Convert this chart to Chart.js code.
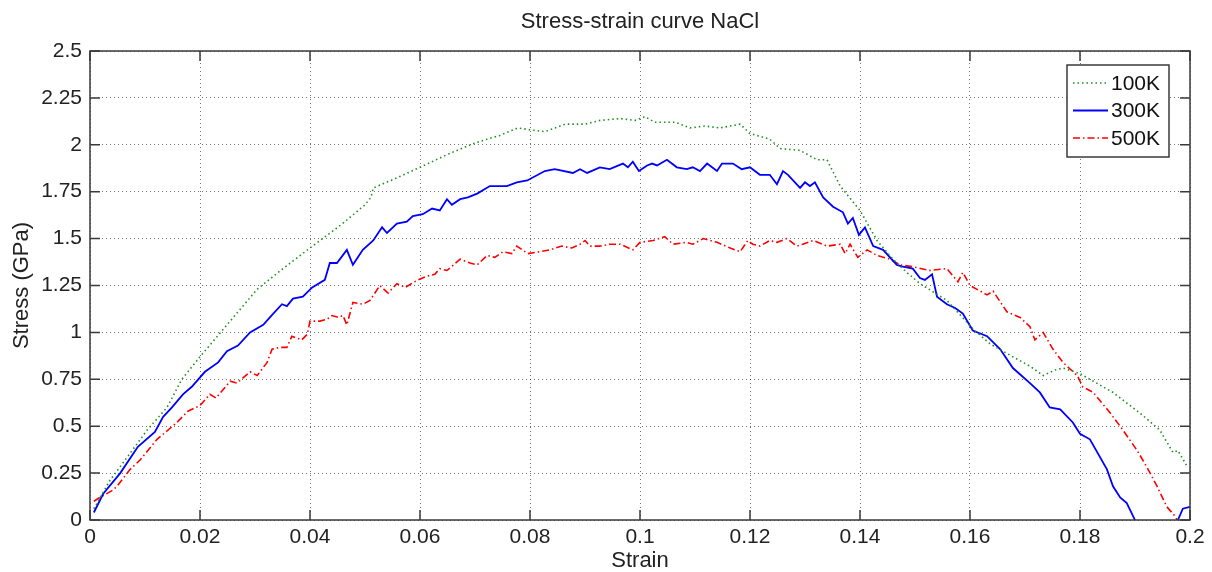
<!DOCTYPE html>
<html>
<head>
<meta charset="utf-8">
<title>Stress-strain curve NaCl</title>
<script src="https://cdn.jsdelivr.net/npm/chart.js@4.4.1/dist/chart.umd.min.js"></script>
<style>
  html, body { margin: 0; padding: 0; background: #fff; }
  #wrap { width: 1212px; height: 572px; }
</style>
</head>
<body>
<div id="wrap"><canvas id="stressChart" width="1212" height="572"></canvas></div>
<script>
// temperature runs
const temps = ['100K', '300K', '500K'];

// 100K run
const strain100 = [0.0007, 0.0036, 0.0069, 0.0104, 0.0140, 0.0167, 0.0200, 0.0249, 0.0304, 0.0351,
  0.0400, 0.0455, 0.0500, 0.0511, 0.0515, 0.0555, 0.0600, 0.0651, 0.0700, 0.0745,
  0.0778, 0.0800, 0.0827, 0.0864, 0.0900, 0.0927, 0.0964, 0.0991, 0.1009, 0.1027,
  0.1064, 0.1091, 0.1118, 0.1145, 0.1164, 0.1182, 0.1200, 0.1236, 0.1255, 0.1291,
  0.1322, 0.1340, 0.1364, 0.1400, 0.1431, 0.1460, 0.1485, 0.1509, 0.1558, 0.1605,
  0.1636, 0.1678, 0.1709, 0.1733, 0.1755, 0.1769, 0.1800, 0.1860, 0.1909, 0.1945,
  0.1969, 0.1978, 0.1996];
const stress100 = [0.06, 0.21, 0.34, 0.48, 0.60, 0.75, 0.87, 1.04, 1.23, 1.34,
  1.45, 1.57, 1.68, 1.72, 1.77, 1.82, 1.88, 1.95, 2.01, 2.05,
  2.09, 2.08, 2.07, 2.11, 2.11, 2.13, 2.14, 2.13, 2.15, 2.12,
  2.12, 2.09, 2.10, 2.09, 2.10, 2.11, 2.06, 2.03, 1.98, 1.97,
  1.92, 1.92, 1.78, 1.65, 1.49, 1.39, 1.32, 1.26, 1.17, 1.02,
  0.94, 0.87, 0.82, 0.77, 0.80, 0.81, 0.78, 0.68, 0.57, 0.48,
  0.36, 0.37, 0.28];

// 300K run
const strain300 = [0.0007, 0.0024, 0.0055, 0.0087, 0.0118, 0.0133, 0.0149, 0.0169, 0.0185, 0.0209,
  0.0233, 0.0249, 0.0269, 0.0291, 0.0315, 0.0327, 0.0349, 0.0358, 0.0369, 0.0387,
  0.0404, 0.0427, 0.0436, 0.0449, 0.0467, 0.0478, 0.0496, 0.0515, 0.0531, 0.0540,
  0.0558, 0.0576, 0.0587, 0.0605, 0.0622, 0.0636, 0.0649, 0.0658, 0.0673, 0.0687,
  0.0704, 0.0727, 0.0758, 0.0776, 0.0795, 0.0827, 0.0845, 0.0878, 0.0891, 0.0904,
  0.0927, 0.0945, 0.0969, 0.0978, 0.0987, 0.0998, 0.1013, 0.1022, 0.1031, 0.1049,
  0.1067, 0.1085, 0.1096, 0.1109, 0.1122, 0.1140, 0.1149, 0.1169, 0.1185, 0.1200,
  0.1218, 0.1236, 0.1249, 0.1260, 0.1269, 0.1291, 0.1300, 0.1309, 0.1318, 0.1333,
  0.1351, 0.1369, 0.1378, 0.1387, 0.1398, 0.1409, 0.1424, 0.1442, 0.1467, 0.1478,
  0.1496, 0.1509, 0.1518, 0.1531, 0.1540, 0.1558, 0.1573, 0.1587, 0.1605, 0.1631,
  0.1655, 0.1678, 0.1709, 0.1727, 0.1745, 0.1764, 0.1787, 0.1800, 0.1818, 0.1849,
  0.1860, 0.1873, 0.1885, 0.1900, 0.1915, 0.1965, 0.1978, 0.1987, 0.2000];
const stress300 = [0.04, 0.14, 0.25, 0.39, 0.47, 0.55, 0.60, 0.67, 0.71, 0.79,
  0.84, 0.90, 0.93, 1.00, 1.04, 1.08, 1.15, 1.14, 1.18, 1.19,
  1.24, 1.28, 1.37, 1.37, 1.44, 1.36, 1.44, 1.49, 1.56, 1.53,
  1.58, 1.59, 1.62, 1.63, 1.66, 1.65, 1.71, 1.68, 1.71, 1.72,
  1.74, 1.78, 1.78, 1.80, 1.81, 1.86, 1.87, 1.85, 1.87, 1.85,
  1.88, 1.87, 1.90, 1.88, 1.91, 1.86, 1.89, 1.90, 1.89, 1.92,
  1.88, 1.87, 1.88, 1.86, 1.90, 1.86, 1.90, 1.90, 1.87, 1.88,
  1.84, 1.84, 1.79, 1.86, 1.84, 1.77, 1.80, 1.78, 1.80, 1.72,
  1.67, 1.64, 1.58, 1.61, 1.52, 1.56, 1.46, 1.44, 1.36, 1.35,
  1.34, 1.29, 1.28, 1.31, 1.19, 1.15, 1.13, 1.10, 1.01, 0.98,
  0.91, 0.81, 0.73, 0.68, 0.60, 0.59, 0.52, 0.46, 0.43, 0.27,
  0.18, 0.12, 0.09, 0.00, -0.15, -0.15, 0.00, 0.06, 0.07];

// 500K run
const strain500 = [0.0007, 0.0018, 0.0042, 0.0049, 0.0073, 0.0091, 0.0122, 0.0158, 0.0178, 0.0200,
  0.0218, 0.0229, 0.0255, 0.0267, 0.0291, 0.0304, 0.0322, 0.0331, 0.0345, 0.0358,
  0.0367, 0.0385, 0.0395, 0.0400, 0.0418, 0.0431, 0.0440, 0.0451, 0.0460, 0.0467,
  0.0478, 0.0496, 0.0509, 0.0527, 0.0542, 0.0558, 0.0573, 0.0596, 0.0613, 0.0627,
  0.0636, 0.0649, 0.0673, 0.0691, 0.0704, 0.0722, 0.0736, 0.0751, 0.0767, 0.0776,
  0.0796, 0.0818, 0.0836, 0.0858, 0.0876, 0.0891, 0.0900, 0.0909, 0.0927, 0.0945,
  0.0964, 0.0987, 0.1000, 0.1024, 0.1045, 0.1060, 0.1085, 0.1096, 0.1115, 0.1140,
  0.1164, 0.1182, 0.1196, 0.1205, 0.1218, 0.1236, 0.1249, 0.1267, 0.1285, 0.1296,
  0.1315, 0.1340, 0.1364, 0.1373, 0.1382, 0.1396, 0.1413, 0.1431, 0.1455, 0.1473,
  0.1496, 0.1527, 0.1558, 0.1578, 0.1587, 0.1600, 0.1631, 0.1642, 0.1667, 0.1691,
  0.1709, 0.1718, 0.1733, 0.1751, 0.1769, 0.1795, 0.1805, 0.1824, 0.1855, 0.1878,
  0.1904, 0.1922, 0.1940, 0.1958, 0.1973, 0.1982, 0.2000];
const stress500 = [0.10, 0.12, 0.16, 0.18, 0.27, 0.32, 0.43, 0.52, 0.58, 0.61,
  0.67, 0.65, 0.74, 0.73, 0.79, 0.77, 0.84, 0.91, 0.92, 0.92,
  0.98, 0.96, 0.99, 1.06, 1.06, 1.07, 1.09, 1.08, 1.09, 1.04,
  1.16, 1.15, 1.17, 1.25, 1.21, 1.26, 1.24, 1.28, 1.30, 1.31,
  1.34, 1.33, 1.39, 1.37, 1.36, 1.41, 1.40, 1.43, 1.42, 1.46,
  1.42, 1.43, 1.44, 1.46, 1.45, 1.47, 1.49, 1.46, 1.46, 1.47,
  1.47, 1.44, 1.48, 1.49, 1.51, 1.47, 1.48, 1.47, 1.50, 1.48,
  1.45, 1.43, 1.49, 1.47, 1.46, 1.49, 1.48, 1.50, 1.46, 1.47,
  1.49, 1.46, 1.47, 1.42, 1.47, 1.40, 1.44, 1.41, 1.39, 1.36,
  1.35, 1.33, 1.34, 1.27, 1.32, 1.25, 1.20, 1.22, 1.11, 1.08,
  1.03, 0.96, 1.00, 0.91, 0.84, 0.77, 0.71, 0.68, 0.57, 0.48,
  0.37, 0.28, 0.18, 0.07, 0.02, -0.03, -0.15];

// axis ticks
const xTicks = [0, 0.02, 0.04, 0.06, 0.08, 0.1, 0.12, 0.14, 0.16, 0.18, 0.2];
const xTickLabels = ['0', '0.02', '0.04', '0.06', '0.08', '0.1', '0.12', '0.14', '0.16', '0.18', '0.2'];
const yTicks = [0, 0.25, 0.5, 0.75, 1, 1.25, 1.5, 1.75, 2, 2.25, 2.5];
const yTickLabels = ['0', '0.25', '0.5', '0.75', '1', '1.25', '1.5', '1.75', '2', '2.25', '2.5'];

const FONT = "'Liberation Sans', Arial, Helvetica, sans-serif";
Chart.defaults.font.family = FONT;
Chart.defaults.color = '#222';

function toPoints(xs, ys) {
    return xs.map((x, i) => ({ x: x, y: ys[i] }));
}

// box round the axes, inward ticks on all four sides, legend in the top right corner
const framePlugin = {
    id: 'frame',
    afterDatasetsDraw(chart) {
        const { ctx, chartArea: a, scales: { x, y } } = chart;
        ctx.save();
        ctx.strokeStyle = '#3a3a3a';
        ctx.lineWidth = 1.5;
        ctx.setLineDash([]);
        ctx.strokeRect(a.left, a.top, a.right - a.left, a.bottom - a.top);

        ctx.beginPath();
        xTicks.forEach(v => {
            const px = x.getPixelForValue(v);
            ctx.moveTo(px, a.bottom); ctx.lineTo(px, a.bottom - 10);
            ctx.moveTo(px, a.top); ctx.lineTo(px, a.top + 10);
        });
        yTicks.forEach(v => {
            const py = y.getPixelForValue(v);
            ctx.moveTo(a.left, py); ctx.lineTo(a.left + 10, py);
            ctx.moveTo(a.right, py); ctx.lineTo(a.right - 10, py);
        });
        ctx.stroke();

        // legend
        const bw = 102, bh = 92;
        const bx = a.right - 21 - bw, by = a.top + 14;
        ctx.fillStyle = '#fff';
        ctx.fillRect(bx, by, bw, bh);
        ctx.strokeStyle = '#3a3a3a';
        ctx.lineWidth = 1.5;
        ctx.strokeRect(bx, by, bw, bh);
        ctx.font = '21px ' + FONT;
        ctx.textBaseline = 'middle';
        ctx.textAlign = 'left';
        chart.data.datasets.forEach((ds, i) => {
            const ly = by + 18 + i * 27.5;
            ctx.beginPath();
            ctx.strokeStyle = ds.borderColor;
            ctx.lineWidth = ds.borderWidth;
            ctx.setLineDash(ds.borderDash || []);
            ctx.moveTo(bx + 6, ly);
            ctx.lineTo(bx + 41, ly);
            ctx.stroke();
            ctx.setLineDash([]);
            ctx.fillStyle = '#111';
            ctx.fillText(ds.label, bx + 44, ly + 1);
        });
        ctx.restore();
    }
};

const ctx = document.getElementById('stressChart').getContext('2d');
const stressChart = new Chart(ctx, {
    type: 'line',
    data: {
        datasets: [
            { label: temps[0], data: toPoints(strain100, stress100), borderColor: '#1e8f1e', borderWidth: 1.6, borderDash: [1.5, 3], pointRadius: 0, tension: 0 },
            { label: temps[1], data: toPoints(strain300, stress300), borderColor: '#0000ff', borderWidth: 1.8, pointRadius: 0, tension: 0 },
            { label: temps[2], data: toPoints(strain500, stress500), borderColor: '#ff0000', borderWidth: 1.6, borderDash: [7, 3, 1.5, 3], pointRadius: 0, tension: 0 }
        ]
    },
    options: {
        responsive: false,
        animation: false,
        layout: { padding: { left: 0, right: 22, top: 0, bottom: 0 } },
        plugins: {
            legend: { display: false },
            tooltip: { enabled: false },
            title: {
                display: true,
                fullSize: false,
                text: 'Stress-strain curve NaCl',
                color: '#222',
                font: { size: 22, weight: 'normal' },
                padding: { top: 9, bottom: 15.6 }
            }
        },
        scales: {
            x: {
                type: 'linear',
                min: 0,
                max: 0.2,
                afterFit(s) { s.height = 52; },
                afterBuildTicks(s) { s.ticks = xTicks.map(v => ({ value: v })); },
                ticks: {
                    callback: (v, i) => xTickLabels[i],
                    font: { size: 21 },
                    color: '#222',
                    padding: 5,
                    maxRotation: 0,
                    autoSkip: false
                },
                grid: { color: 'rgba(0,0,0,0.55)', lineWidth: 1, drawTicks: false },
                border: { display: false, dash: [1, 3] },
                title: {
                    display: true,
                    text: 'Strain',
                    color: '#222',
                    font: { size: 22, lineHeight: 1 },
                    padding: { top: 0, bottom: 0 }
                }
            },
            y: {
                type: 'linear',
                min: 0,
                max: 2.5,
                afterFit(s) { s.width = 90; },
                afterBuildTicks(s) { s.ticks = yTicks.map(v => ({ value: v })); },
                ticks: {
                    callback: (v, i) => yTickLabels[i],
                    font: { size: 21 },
                    color: '#222',
                    padding: 8,
                    autoSkip: false
                },
                grid: { color: 'rgba(0,0,0,0.55)', lineWidth: 1, drawTicks: false },
                border: { display: false, dash: [1, 3] },
                title: {
                    display: true,
                    text: 'Stress (GPa)',
                    color: '#222',
                    font: { size: 22, lineHeight: 1.2 },
                    padding: { top: 9, bottom: 0 }
                }
            }
        }
    },
    plugins: [framePlugin]
});
</script>
</body>
</html>
